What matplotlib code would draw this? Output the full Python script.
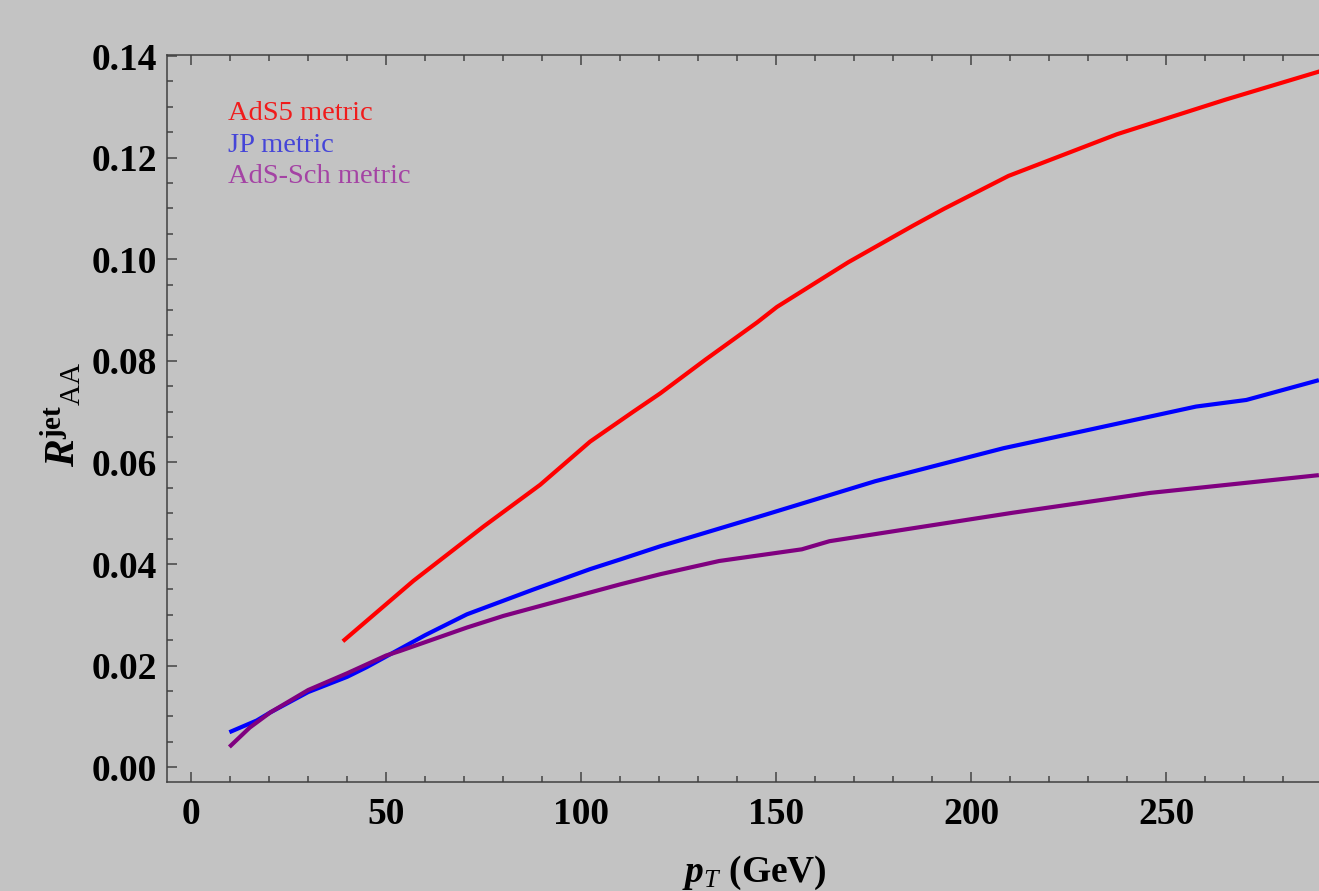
import matplotlib
matplotlib.use('Agg')
import matplotlib.pyplot as plt
from matplotlib.ticker import MultipleLocator, FormatStrFormatter

# values
ads5_x = [38.9, 57, 75, 89.5, 102.3, 113.4, 120.3, 132, 145.2, 150.2,
          168.5, 185.1, 193, 209.6, 237.4, 265.2, 289.5]
ads5_y = [0.0248, 0.0367, 0.0474, 0.0556, 0.0641, 0.0700, 0.0736, 0.0803,
          0.0876, 0.0906, 0.0994, 0.1066, 0.1099, 0.1164, 0.1246, 0.1314, 0.1370]

jp_x = [9.8, 16.8, 20.3, 30, 40, 45, 51.9, 60, 70.7, 87.8, 102.3, 110,
        120.3, 147.2, 175.4, 208.3, 228.3, 257.7, 270.6, 289.2]
jp_y = [0.0069, 0.0092, 0.0108, 0.0148, 0.0178, 0.0197, 0.0226, 0.0260,
        0.0301, 0.0350, 0.0390, 0.0409, 0.0435, 0.0497, 0.0563, 0.0628,
        0.0661, 0.0710, 0.0723, 0.0762]

sch_x = [9.8, 15, 20.3, 30, 40, 50, 53.6, 70.7, 80.1, 87.8, 110, 120.3,
         135.4, 156.6, 163.7, 210.7, 245.9, 289.2]
sch_y = [0.0040, 0.0078, 0.0108, 0.0152, 0.0185, 0.0220, 0.0229, 0.0275,
         0.0298, 0.0314, 0.0360, 0.0380, 0.0406, 0.0429, 0.0445, 0.0501,
         0.0540, 0.0575]

labels = ['AdS5 metric', 'JP metric', 'AdS-Sch metric']
line_colors = ['#ff0000', '#0000ff', '#800080']
text_colors = ['#f01c1c', '#4545d8', '#a443a4']

bg = '#c3c3c3'
plt.rcParams['font.family'] = 'Liberation Serif'
plt.rcParams['mathtext.fontset'] = 'custom'
plt.rcParams['mathtext.rm'] = 'Liberation Serif'
plt.rcParams['mathtext.it'] = 'Liberation Serif:italic'
plt.rcParams['mathtext.bf'] = 'Liberation Serif:bold'
plt.rcParams['mathtext.bfit'] = 'Liberation Serif:bold:italic'

fig = plt.figure(figsize=(13.19, 8.91), dpi=100, facecolor=bg)
ax = fig.add_axes([167 / 1319, 109 / 891, 1155 / 1319, 727 / 891])
ax.set_facecolor(bg)

for xs, ys, c in zip([ads5_x, jp_x, sch_x], [ads5_y, jp_y, sch_y], line_colors):
    ax.plot(xs, ys, color=c, lw=3, solid_capstyle='butt')

ax.set_xlim(-6.2, 290)
ax.set_ylim(-0.0029, 0.1402)

ax.xaxis.set_major_locator(MultipleLocator(50))
ax.xaxis.set_minor_locator(MultipleLocator(10))
ax.yaxis.set_major_locator(MultipleLocator(0.02))
ax.yaxis.set_minor_locator(MultipleLocator(0.005))
ax.yaxis.set_major_formatter(FormatStrFormatter('%.2f'))

ax.tick_params(which='both', direction='in', top=True, right=False,
               color='#444444', width=1.1)
ax.tick_params(which='major', length=7)
ax.tick_params(which='minor', length=4.3)
ax.tick_params(axis='x', pad=11)
ax.tick_params(axis='y', pad=7)
for lab in ax.get_xticklabels() + ax.get_yticklabels():
    lab.set_fontsize(27)
    lab.set_fontweight('bold')
for s in ax.spines.values():
    s.set_color('#404040')
    s.set_linewidth(1.1)

# legend as coloured text
for i, (t, c) in enumerate(zip(labels, text_colors)):
    fig.text(228 / 1319, 1 - (120 + 31.5 * i) / 891, t, color=c,
             fontsize=20.5, va='baseline', ha='left')

fig.text(61 / 1319, 1 - 414 / 891,
         r'$\mathbfit{R}^{\mathbf{jet}}{}_{\mathrm{AA}}$',
         rotation=90, ha='center', va='center', fontsize=30)
fig.text(754 / 1319, 1 - 882 / 891, r'$\mathbfit{p}_{\mathit{T}}$ (GeV)',
         ha='center', va='baseline', fontsize=27, fontweight='bold')

fig.savefig('out.png', dpi=100, facecolor=bg)
